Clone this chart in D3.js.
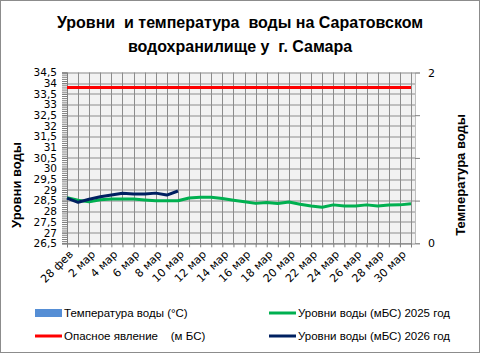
<!DOCTYPE html>
<html>
<head>
<meta charset="utf-8">
<script src="https://cdn.jsdelivr.net/npm/d3@7"></script>
<style>
  body { margin: 0; background: #fff; }
  svg { display: block; }
</style>
</head>
<body>
<div id="chart"></div>
<script>
// data
var days = ["28 фев", "1 мар", "2 мар", "3 мар", "4 мар", "5 мар", "6 мар", "7 мар", "8 мар", "9 мар",
    "10 мар", "11 мар", "12 мар", "13 мар", "14 мар", "15 мар", "16 мар", "17 мар", "18 мар", "19 мар",
    "20 мар", "21 мар", "22 мар", "23 мар", "24 мар", "25 мар", "26 мар", "27 мар", "28 мар", "29 мар",
    "30 мар", "31 мар"]

var level2025 = [28.64, 28.52, 28.44, 28.54, 28.57, 28.57, 28.57, 28.53, 28.49, 28.49,
    28.49, 28.62, 28.66, 28.66, 28.6, 28.52, 28.45, 28.37, 28.41, 28.36,
    28.43, 28.33, 28.25, 28.19, 28.3, 28.25, 28.25, 28.3, 28.25, 28.29,
    28.3, 28.35]

var level2026 = [28.62, 28.42, 28.56, 28.68, 28.76, 28.84, 28.81, 28.81, 28.85, 28.76, 28.95]

var dangerLevel = 33.8

var levelTicks = [26.5, 27, 27.5, 28, 28.5, 29, 29.5, 30, 30.5, 31, 31.5, 32, 32.5, 33, 33.5, 34, 34.5]
var tempTicks = [0, 0.5, 1, 1.5, 2]
var tempLabels = [0, 2]

var legendItems = [
    { name: "Температура воды (°С)", color: "#558ed5", kind: "rect" },
    { name: "Уровни воды (мБС) 2025 год", color: "#00b050", kind: "line" },
    { name: "Опасное явление    (м БС)", color: "#ff0000", kind: "line" },
    { name: "Уровни воды (мБС) 2026 год", color: "#002060", kind: "line" }
]

var W = 481, H = 354
var margin = { left: 67, right: 70, top: 72.5, bottom: 110.7 }
var width = W - margin.left - margin.right,
    height = H - margin.top - margin.bottom

var svg = d3.select("#chart").append("svg")
    .attr("width", W)
    .attr("height", H)

svg.append("rect")
    .attr("x", 0.5).attr("y", 0.5)
    .attr("width", W - 2).attr("height", H - 2)
    .attr("fill", "#fff")
    .attr("stroke", "#8c8c8c")

// title
var title = svg.append("text")
    .attr("text-anchor", "middle")
    .attr("font-family", "Liberation Sans, Arial, sans-serif")
    .attr("font-weight", "bold")
    .attr("font-size", "16px")
    .attr("fill", "#000")
    .style("white-space", "pre")
title.append("tspan").attr("x", 240).attr("y", 28).text("Уровни  и температура  воды на Саратовском")
title.append("tspan").attr("x", 240).attr("y", 52).text("водохранилище у  г. Самара")

var g = svg.append("g")
    .attr("transform", "translate(" + margin.left + "," + margin.top + ")")

var x = d3.scalePoint()
    .domain(days)
    .range([0, width])

var y = d3.scaleLinear()
    .domain([26.5, 34.5])
    .range([height, 0])

var y2 = d3.scaleLinear()
    .domain([0, 2])
    .range([height, 0])

g.append("rect")
    .attr("x", 0).attr("y", 0)
    .attr("width", width + 4).attr("height", height)
    .attr("fill", "#f2f2f2")

// grid
g.append("g")
    .selectAll("line")
    .data(days)
    .enter().append("line")
    .attr("x1", d => Math.round(x(d)) + 0.5)
    .attr("x2", d => Math.round(x(d)) + 0.5)
    .attr("y1", 0).attr("y2", height)
    .attr("stroke", "#8c8c8c")

g.append("g")
    .selectAll("line")
    .data(levelTicks)
    .enter().append("line")
    .attr("x1", 0).attr("x2", width + 4)
    .attr("y1", d => Math.round(y(d)) + 0.5)
    .attr("y2", d => Math.round(y(d)) + 0.5)
    .attr("stroke", "#8c8c8c")

var fontTick = "DejaVu Sans, Verdana, sans-serif"

// left axis
var minorTicks = d3.range(265, 346).map(d => d / 10)
g.append("g")
    .call(d3.axisLeft(y).tickValues(minorTicks).tickSize(5).tickFormat(""))
    .call(a => a.select(".domain").remove())
    .selectAll("line").attr("stroke", "#7f7f7f")

var yAxis = g.append("g")
    .call(d3.axisLeft(y).tickValues(levelTicks).tickSize(5).tickPadding(5)
        .tickFormat(d => String(d).replace(".", ",")))
yAxis.select(".domain").attr("stroke", "#7f7f7f")
yAxis.selectAll("line").attr("stroke", "#7f7f7f")
yAxis.selectAll("text")
    .attr("font-family", fontTick)
    .attr("font-size", "10.5px")
    .attr("fill", "#000")

// right axis
var y2Axis = g.append("g")
    .attr("transform", "translate(" + (width + 4) + ",0)")
    .call(d3.axisRight(y2).tickValues(tempTicks).tickSize(5).tickPadding(8)
        .tickFormat(d => tempLabels.indexOf(d) >= 0 ? d : ""))
y2Axis.select(".domain").attr("stroke", "#bfbfbf")
y2Axis.selectAll("line").attr("stroke", "#7f7f7f")
y2Axis.selectAll("text")
    .attr("font-family", fontTick)
    .attr("font-size", "11px")
    .attr("fill", "#000")

// bottom axis
var xAxis = g.append("g")
    .attr("transform", "translate(0," + height + ")")
    .call(d3.axisBottom(x).tickSize(4).tickFormat(""))
xAxis.select(".domain").attr("stroke", "#7f7f7f")
xAxis.selectAll("line").attr("stroke", "#7f7f7f")

g.append("g")
    .selectAll("text")
    .data(days.filter((d, i) => i % 2 == 0 && i < 31))
    .enter().append("text")
    .attr("transform", d => "translate(" + (x(d) + 4) + "," + (height + 9) + ") rotate(-45)")
    .attr("text-anchor", "end")
    .attr("dy", "0.35em")
    .attr("font-family", fontTick)
    .attr("font-size", "11px")
    .attr("fill", "#000")
    .text(d => d)

// axis titles
svg.append("text")
    .attr("transform", "translate(21,185) rotate(-90)")
    .attr("text-anchor", "middle")
    .attr("font-family", "Liberation Sans, Arial, sans-serif")
    .attr("font-weight", "bold")
    .attr("font-size", "13px")
    .text("Уровни воды")

svg.append("text")
    .attr("transform", "translate(465,175) rotate(-90)")
    .attr("text-anchor", "middle")
    .attr("font-family", "Liberation Sans, Arial, sans-serif")
    .attr("font-weight", "bold")
    .attr("font-size", "13px")
    .text("Температура воды")

// series
var line = d3.line()
    .x((d, i) => x(days[i]))
    .y(d => y(d))

g.append("path")
    .datum(days.map(() => dangerLevel))
    .attr("d", line)
    .attr("fill", "none")
    .attr("stroke", "#ff0000")
    .attr("stroke-width", 3)

g.append("path")
    .datum(level2025)
    .attr("d", line)
    .attr("fill", "none")
    .attr("stroke", "#00b050")
    .attr("stroke-width", 3)
    .attr("stroke-linejoin", "round")

g.append("path")
    .datum(level2026)
    .attr("d", line)
    .attr("fill", "none")
    .attr("stroke", "#002060")
    .attr("stroke-width", 3)
    .attr("stroke-linejoin", "round")

// legend
var legend = svg.append("g")
var leg = legend.selectAll("g")
    .data(legendItems)
    .enter().append("g")
    .attr("transform", (d, i) => "translate(" + (i % 2 == 0 ? 35 : 269) + "," + (i < 2 ? 313 : 336) + ")")

leg.filter(d => d.kind == "rect").append("rect")
    .attr("x", 0).attr("y", -4)
    .attr("width", 27).attr("height", 8)
    .attr("fill", d => d.color)

leg.filter(d => d.kind == "line").append("line")
    .attr("x1", 0).attr("x2", 27)
    .attr("y1", 0).attr("y2", 0)
    .attr("stroke", d => d.color)
    .attr("stroke-width", 3)

leg.append("text")
    .attr("x", 29)
    .attr("dy", "0.35em")
    .attr("font-family", "Liberation Sans, Arial, sans-serif")
    .attr("font-size", "11.5px")
    .attr("fill", "#000")
    .style("white-space", "pre")
    .text(d => d.name)
</script>
</body>
</html>
